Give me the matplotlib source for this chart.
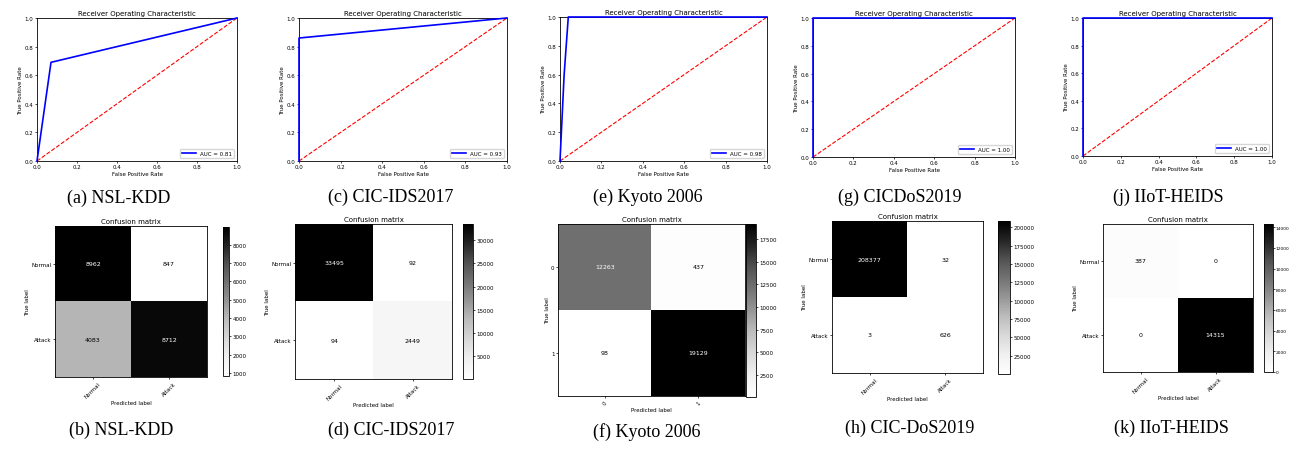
import matplotlib.pyplot as plt
import numpy as np
from matplotlib.ticker import MultipleLocator

# ROC curves (fpr, tpr) per dataset
roc_names = ['(a) NSL-KDD', '(c) CIC-IDS2017', '(e) Kyoto 2006', '(g) CICDoS2019', '(j) IIoT-HEIDS']
roc_fpr = [[0.0, 0.07, 1.0],
           [0.0, 0.0, 0.25, 0.5, 0.75, 1.0],
           [0.0, 0.02, 0.04, 1.0],
           [0.0, 0.0, 1.0],
           [0.0, 0.0, 1.0]]
roc_tpr = [[0.0, 0.69, 1.0],
           [0.0, 0.86, 0.895, 0.93, 0.965, 1.0],
           [0.0, 0.6, 1.0, 1.0],
           [0.0, 1.0, 1.0],
           [0.0, 1.0, 1.0]]
roc_auc = [0.81, 0.93, 0.98, 1.00, 1.00]

# confusion matrices
cm_names = ['(b) NSL-KDD', '(d) CIC-IDS2017', '(f) Kyoto 2006', '(h) CIC-DoS2019', '(k) IIoT-HEIDS']
cm_labels = [['Normal', 'Attack'], ['Normal', 'Attack'], ['0', '1'], ['Normal', 'Attack'], ['Normal', 'Attack']]
cm_values = [[[8962, 847], [4083, 8712]],
             [[33495, 92], [94, 2449]],
             [[12263, 437], [98, 19129]],
             [[208377, 32], [3, 626]],
             [[387, 0], [0, 14315]]]
cbar_steps = [1000, 5000, 2500, 25000, 2000]

W, H = 1292, 452
fig = plt.figure(figsize=(W / 100, H / 100), dpi=100)


def box(l, r, t, b):
    # pixel box -> figure fraction rect
    return [l / W, 1 - b / H, (r - l) / W, (b - t) / H]


roc_boxes = [(37, 237, 19, 162), (299, 507, 19, 162), (560, 767, 18, 162),
             (813, 1015, 19, 158), (1083, 1272, 19, 157)]
roc_caps = [(119, 198), (391, 197), (648, 197), (900, 197), (1168, 197)]

for i in range(5):
    ax = fig.add_axes(box(*roc_boxes[i]))
    ax.plot(roc_fpr[i], roc_tpr[i], 'b', lw=1.2, label='AUC = %0.2f' % roc_auc[i],
            clip_on=False, zorder=3)
    ax.plot([0, 1], [0, 1], 'r--', lw=0.8)
    ax.set_xlim([0, 1])
    ax.set_ylim([0, 1])
    ax.set_title('Receiver Operating Characteristic', fontsize=5, pad=2)
    ax.set_xlabel('False Positive Rate', fontsize=4, labelpad=1)
    ax.set_ylabel('True Positive Rate', fontsize=4, labelpad=1)
    ax.tick_params(labelsize=4, length=1.5, width=0.5, pad=1)
    ax.legend(loc='lower right', fontsize=4, handlelength=2.5)
    for s in ax.spines.values():
        s.set_linewidth(0.6)
    fig.text(roc_caps[i][0] / W, 1 - roc_caps[i][1] / H, roc_names[i],
             ha='center', va='center', fontsize=13, family='Liberation Serif')

cm_boxes = [(55, 207, 227, 378), (295, 452, 225, 380), (558, 745, 225, 397),
            (832, 983, 222, 374), (1103, 1253, 225, 373)]
cb_boxes = [(223, 229, 228, 377), (463, 473, 225, 380), (746, 756, 225, 398),
            (998, 1010, 222, 375), (1264, 1273, 225, 373)]
cm_caps = [(121, 430), (391, 430), (647, 432), (910, 428), (1171, 428)]

for i in range(5):
    cm = np.array(cm_values[i])
    ax = fig.add_axes(box(*cm_boxes[i]))
    im = ax.imshow(cm, interpolation='nearest', cmap='Greys', aspect='auto')
    ax.set_title('Confusion matrix', fontsize=5, pad=2)
    ticks = np.arange(2)
    ax.set_xticks(ticks)
    ax.set_xticklabels(cm_labels[i], rotation=45, fontsize=4)
    ax.set_yticks(ticks)
    ax.set_yticklabels(cm_labels[i], fontsize=4)
    ax.set_ylabel('True label', fontsize=4, labelpad=1)
    ax.set_xlabel('Predicted label', fontsize=4, labelpad=1)
    ax.tick_params(length=1.5, width=0.5, pad=1)
    thresh = cm.max() / 2.
    for r in range(2):
        for c in range(2):
            ax.text(c, r, format(cm[r, c], 'd'), ha='center', va='center', fontsize=4.5,
                    color='white' if cm[r, c] > thresh else 'black')
    for s in ax.spines.values():
        s.set_linewidth(0.6)
    cax = fig.add_axes(box(*cb_boxes[i]))
    cb = fig.colorbar(im, cax=cax)
    cb.locator = MultipleLocator(cbar_steps[i])
    cb.update_ticks()
    if i < 4:
        cb.ax.tick_params(labelsize=4, length=1.5, width=0.5, pad=1)
    else:
        cb.ax.tick_params(labelsize=3.2, length=1.2, width=0.5, pad=0.5)
    cb.outline.set_linewidth(0.6)
    fig.text(cm_caps[i][0] / W, 1 - cm_caps[i][1] / H, cm_names[i],
             ha='center', va='center', fontsize=13, family='Liberation Serif')

fig.savefig('out.png', dpi=100)
